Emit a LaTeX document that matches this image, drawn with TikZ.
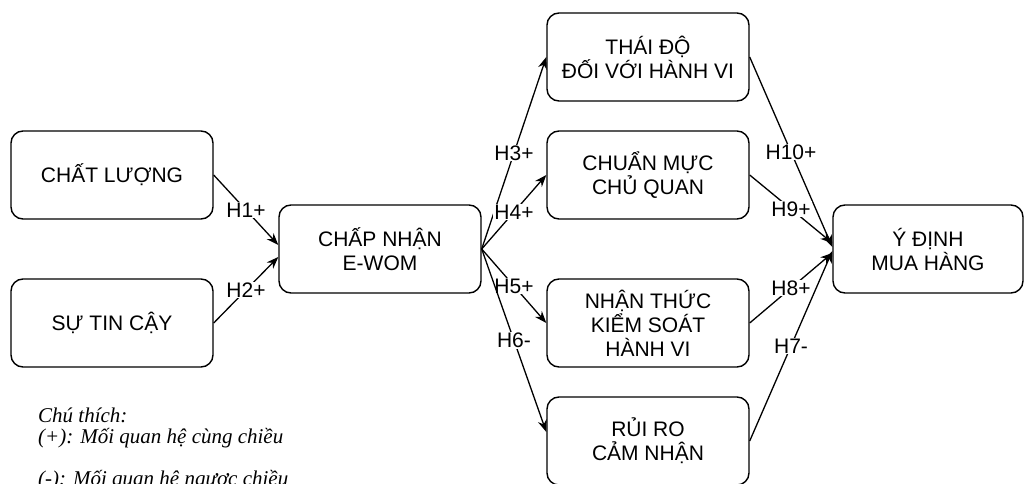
\documentclass[tikz,border=0pt]{standalone}
\usepackage{fontspec}
\setmainfont{Liberation Sans}
\newfontfamily\notefont{Liberation Serif}
\usetikzlibrary{arrows.meta}
\begin{document}
\begin{tikzpicture}[x=1pt,y=-1pt,font=\fontsize{21}{24}\selectfont,line join=round,>={Stealth[length=12pt,width=9pt]},
	hop/.style={draw,line width=1.4pt,rounded corners=12pt,minimum width=202pt,minimum height=88pt,align=center,inner sep=2pt},
	lien/.style={->,line width=1.3pt},
	nhan/.style={midway,fill=white,inner sep=1pt}]
	\useasboundingbox (0,0) rectangle (1026,484);
	% cac khai niem
	\node[hop] (cl) at (112,175) {CHẤT LƯỢNG};
	\node[hop] (tc) at (112,323) {SỰ TIN CẬY};
	\node[hop] (ewom) at (380,249) {CHẤP NHẬN\\E-WOM};
	\node[hop] (td) at (648,57) {THÁI ĐỘ\\ĐỐI VỚI HÀNH VI};
	\node[hop] (cm) at (648,175) {CHUẨN MỰC\\CHỦ QUAN};
	\node[hop] (nt) at (648,323) {NHẬN THỨC\\KIỂM SOÁT\\HÀNH VI};
	\node[hop] (rr) at (648,441) {RỦI RO\\CẢM NHẬN};
	\node[hop,minimum width=190pt] (yd) at (928,249) {Ý ĐỊNH\\MUA HÀNG};
	% gia thuyet
	\draw[lien] (cl.east)--([yshift=4pt]ewom.west) node[nhan]{H1+};
	\draw[lien] (tc.east)--([yshift=-8pt]ewom.west) node[nhan]{H2+};
	\draw[lien] (ewom.east)--(td.west) node[nhan]{H3+};
	\draw[lien] (ewom.east)--(cm.west) node[nhan]{H4+};
	\draw[lien] (ewom.east)--(nt.west) node[nhan]{H5+};
	\draw[lien] (ewom.east)--([yshift=9pt]rr.west) node[nhan]{H6-};
	\draw[lien] (td.east)--([yshift=2pt]yd.west) node[nhan]{H10+};
	\draw[lien] (cm.east)--([yshift=6pt]yd.west) node[nhan]{H9+};
	\draw[lien] (nt.east)--([yshift=-4pt]yd.west) node[nhan]{H8+};
	\draw[lien] (rr.east)--([yshift=-2pt]yd.west) node[nhan]{H7-};
	% chu thich
	\node[anchor=north west,align=left,inner sep=0pt,font=\notefont\itshape\fontsize{21}{21}\selectfont] (chuthich) at (38,408)
		{Chú thích:\\(+): Mối quan hệ cùng chiều\\[21pt](-): Mối quan hệ ngược chiều};
\end{tikzpicture}
\end{document}
